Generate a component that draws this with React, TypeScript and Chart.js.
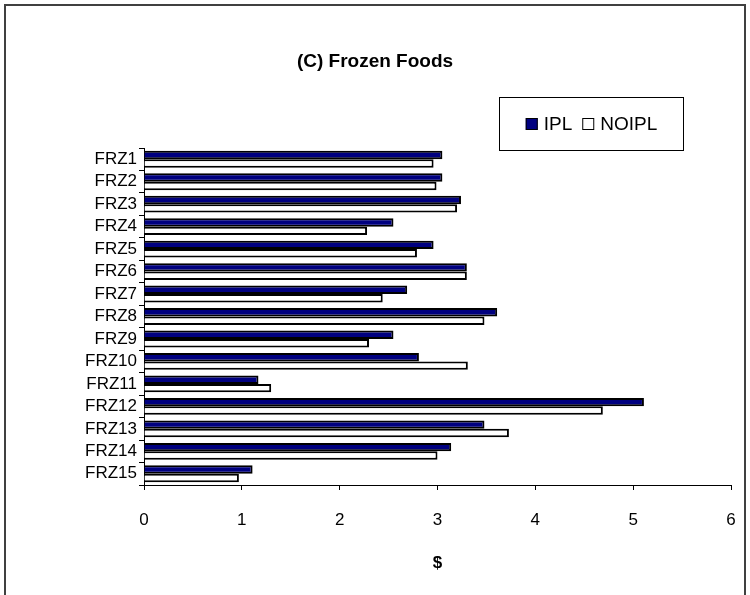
import React, { useEffect, useRef } from "react";
import { Chart, registerables } from "chart.js";

Chart.register(...registerables);

const categories = ["FRZ1", "FRZ2", "FRZ3", "FRZ4", "FRZ5", "FRZ6", "FRZ7", "FRZ8", "FRZ9", "FRZ10", "FRZ11", "FRZ12", "FRZ13", "FRZ14", "FRZ15"];
const iplValues = [3.05, 3.05, 3.24, 2.55, 2.96, 3.3, 2.69, 3.61, 2.55, 2.81, 1.17, 5.11, 3.48, 3.14, 1.11];
const noiplValues = [2.96, 2.99, 3.2, 2.28, 2.79, 3.3, 2.44, 3.48, 2.3, 3.31, 1.3, 4.69, 3.73, 3.0, 0.97];
const seriesNames = ["IPL", "NOIPL"];
const xTickMin = 0;
const xTickMax = 6;
const titleText = "(C) Frozen Foods";
const xAxisTitle = "$";

const FONT = "'Liberation Sans', Arial, Helvetica, sans-serif";

const framePlugin = {
  id: "frameAndLegend",
  afterDraw(chart: any) {
    const ctx = chart.ctx;
    ctx.save();
    ctx.strokeStyle = "#404040";
    ctx.lineWidth = 2;
    ctx.strokeRect(5, 5, 740, 600);

    const bx = 499.5, by = 97.5, bw = 184, bh = 53;
    ctx.lineWidth = 1;
    ctx.strokeStyle = "#000";
    ctx.fillStyle = "#fff";
    ctx.fillRect(bx, by, bw, bh);
    ctx.strokeRect(bx, by, bw, bh);

    ctx.font = `19px ${FONT}`;
    ctx.textBaseline = "middle";
    ctx.textAlign = "left";
    const cy = by + bh / 2;
    const box = 12;
    const ds = chart.data.datasets;
    const gapBoxText = 6;
    const gapItems = 10;
    let total = 0;
    ds.forEach((d: any, i: number) => {
      total += box + gapBoxText + ctx.measureText(d.label).width;
      if (i < ds.length - 1) total += gapItems;
    });
    let x = bx + (bw - total) / 2;
    ds.forEach((d: any) => {
      ctx.fillStyle = d.backgroundColor;
      ctx.fillRect(x, cy - box / 2, box, box);
      ctx.strokeStyle = "#000";
      ctx.lineWidth = 1;
      ctx.strokeRect(x + 0.5, cy - box / 2 + 0.5, box - 1, box - 1);
      x += box + gapBoxText;
      ctx.fillStyle = "#000";
      ctx.fillText(d.label, x, cy + 1);
      x += ctx.measureText(d.label).width + gapItems;
    });
    ctx.restore();
  },
};

export default function App() {
  const canvasRef = useRef<HTMLCanvasElement | null>(null);

  useEffect(() => {
    document.body.style.margin = "0";
    const canvas = canvasRef.current;
    if (!canvas) return;
    const chart = new Chart(canvas, {
      type: "bar",
      data: {
        labels: categories,
        datasets: [
          {
            label: seriesNames[0],
            data: iplValues,
            backgroundColor: "#000080",
            borderColor: "#000000",
            borderWidth: 2,
            categoryPercentage: 0.75,
            barPercentage: 1.0,
          },
          {
            label: seriesNames[1],
            data: noiplValues,
            backgroundColor: "#ffffff",
            borderColor: "#000000",
            borderWidth: 2,
            categoryPercentage: 0.75,
            barPercentage: 1.0,
          },
        ],
      },
      options: {
        indexAxis: "y",
        responsive: false,
        animation: false,
        layout: { padding: { left: 0, right: 0, top: 0, bottom: 0 } },
        plugins: {
          legend: { display: false },
          tooltip: { enabled: false },
          title: {
            display: true,
            text: titleText,
            color: "#000",
            font: { family: FONT, size: 19, weight: "bold" },
            padding: { top: 50.6, bottom: 74.6 },
          },
        },
        scales: {
          x: {
            type: "linear",
            min: xTickMin,
            max: xTickMax,
            ticks: {
              stepSize: 1,
              color: "#000",
              font: { family: FONT, size: 17 },
              padding: 20,
            },
            grid: { drawOnChartArea: false, drawTicks: true, tickLength: 5, color: "#000" },
            border: { display: true, color: "#000", width: 1 },
            title: {
              display: true,
              text: xAxisTitle,
              color: "#000",
              font: { family: FONT, size: 17, weight: "bold" },
              padding: { top: 14, bottom: 21 },
            },
            afterFit(scale: any) {
              scale.height = 110;
              scale.paddingRight = 19;
              scale.paddingLeft = 0;
            },
          },
          y: {
            type: "category",
            ticks: {
              color: "#000",
              font: { family: FONT, size: 17 },
              padding: 2,
              autoSkip: false,
            },
            grid: { drawOnChartArea: false, drawTicks: true, tickLength: 5, color: "#000", offset: true },
            border: { display: true, color: "#000", width: 1 },
            afterFit(scale: any) {
              scale.width = 144;
            },
          },
        },
      },
      plugins: [framePlugin],
    });
    return () => chart.destroy();
  }, []);

  return (
    <div style={{ position: "absolute", left: 0, top: 0, width: 750, height: 595, background: "#fff" }}>
      <canvas ref={canvasRef} width={750} height={595} />
    </div>
  );
}
